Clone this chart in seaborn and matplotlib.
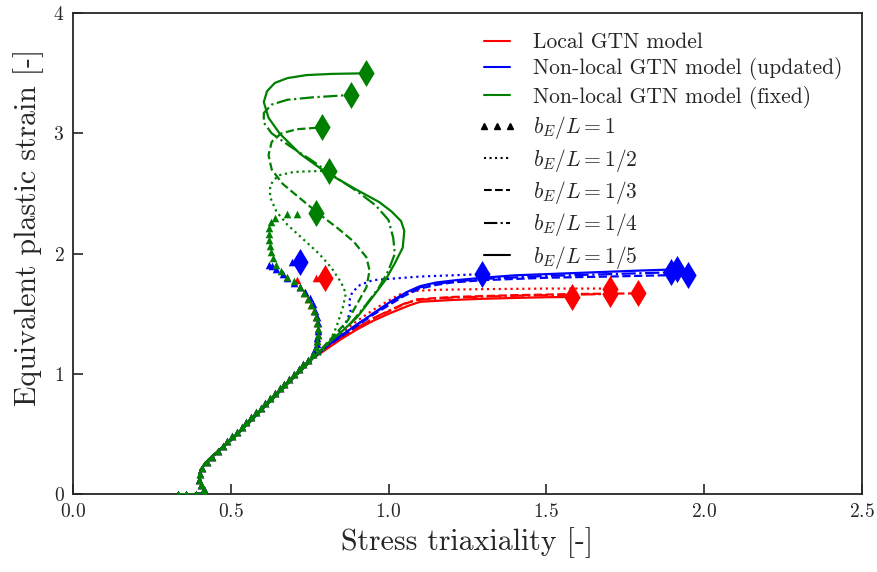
import matplotlib
matplotlib.use("Agg")
import matplotlib.pyplot as plt
from matplotlib.lines import Line2D
import numpy as np
import seaborn as sns

# shared start of every continuous curve (stress triaxiality, eq. plastic strain)
base_x = [0.333, 0.38, 0.42, 0.415, 0.405, 0.40, 0.405, 0.42, 0.44, 0.47, 0.51, 0.56, 0.62, 0.68, 0.73, 0.76]
base_y = [0.0, 0.0, 0.01, 0.05, 0.10, 0.15, 0.20, 0.26, 0.31, 0.38, 0.47, 0.60, 0.76, 0.92, 1.05, 1.13]

# local GTN model
red_half_x = [0.80, 0.85, 0.90, 0.95, 1.0, 1.035, 1.08, 1.16, 1.3, 1.5, 1.70]
red_half_y = [1.23, 1.34, 1.44, 1.53, 1.61, 1.66, 1.69, 1.70, 1.705, 1.71, 1.71]
red_third_x = [0.80, 0.85, 0.90, 0.95, 1.0, 1.05, 1.09, 1.2, 1.4, 1.6, 1.79]
red_third_y = [1.21, 1.30, 1.38, 1.46, 1.52, 1.58, 1.62, 1.64, 1.655, 1.665, 1.67]
red_quarter_x = [0.80, 0.85, 0.90, 0.95, 1.0, 1.05, 1.09, 1.2, 1.4, 1.6, 1.70]
red_quarter_y = [1.21, 1.30, 1.385, 1.46, 1.525, 1.585, 1.615, 1.635, 1.65, 1.66, 1.665]
red_fifth_x = [0.80, 0.85, 0.90, 0.95, 1.0, 1.066, 1.10, 1.2, 1.3, 1.4, 1.5, 1.58]
red_fifth_y = [1.20, 1.29, 1.37, 1.44, 1.50, 1.57, 1.60, 1.615, 1.625, 1.632, 1.638, 1.64]

# non-local GTN model (updated)
blue_half_x = [0.80, 0.84, 0.865, 0.88, 0.875, 0.885, 0.91, 0.95, 1.0, 1.1, 1.2, 1.295]
blue_half_y = [1.23, 1.33, 1.43, 1.52, 1.60, 1.68, 1.74, 1.78, 1.79, 1.81, 1.82, 1.83]
blue_third_x = [0.80, 0.85, 0.90, 0.95, 1.0, 1.05, 1.1, 1.15, 1.2, 1.3, 1.5, 1.7, 1.95]
blue_third_y = [1.22, 1.31, 1.40, 1.49, 1.57, 1.65, 1.71, 1.74, 1.76, 1.78, 1.80, 1.81, 1.825]
blue_quarter_x = [0.80, 0.85, 0.90, 0.95, 1.0, 1.055, 1.1, 1.15, 1.215, 1.3, 1.5, 1.7, 1.895]
blue_quarter_y = [1.22, 1.32, 1.41, 1.50, 1.58, 1.67, 1.72, 1.75, 1.77, 1.79, 1.815, 1.83, 1.845]
blue_fifth_x = [0.80, 0.85, 0.90, 0.95, 1.0, 1.057, 1.10, 1.15, 1.215, 1.3, 1.4, 1.5, 1.6, 1.7, 1.8, 1.915]
blue_fifth_y = [1.22, 1.32, 1.41, 1.50, 1.59, 1.68, 1.73, 1.76, 1.78, 1.80, 1.82, 1.83, 1.84, 1.85, 1.86, 1.87]

# non-local GTN model (fixed)
green_half_x = [0.78, 0.81, 0.835, 0.855, 0.865, 0.85, 0.82, 0.78, 0.73, 0.68, 0.645, 0.625, 0.625, 0.65, 0.70, 0.81]
green_half_y = [1.15, 1.25, 1.39, 1.55, 1.67, 1.76, 1.88, 2.0, 2.12, 2.24, 2.35, 2.47, 2.57, 2.65, 2.68, 2.69]
green_third_x = [0.82, 0.87, 0.90, 0.93, 0.94, 0.93, 0.89, 0.84, 0.78, 0.72, 0.665, 0.63, 0.62, 0.63, 0.66, 0.71, 0.79]
green_third_y = [1.30, 1.44, 1.58, 1.72, 1.86, 1.97, 2.10, 2.21, 2.33, 2.46, 2.58, 2.70, 2.82, 2.93, 3.00, 3.035, 3.05]
green_quarter_x = [0.82, 0.88, 0.93, 0.97, 1.0, 1.02, 1.015, 1.0, 0.96, 0.90, 0.83, 0.76, 0.69, 0.63, 0.605, 0.605, 0.63, 0.68, 0.76, 0.88]
green_quarter_y = [1.28, 1.42, 1.58, 1.72, 1.86, 2.0, 2.13, 2.28, 2.40, 2.52, 2.64, 2.77, 2.89, 3.0, 3.09, 3.17, 3.24, 3.28, 3.30, 3.32]
green_fifth_x = [0.81, 0.855, 0.90, 0.95, 0.99, 1.02, 1.045, 1.05, 1.04, 1.01, 0.97, 0.90, 0.80, 0.72, 0.655, 0.62, 0.605, 0.615, 0.64, 0.68, 0.74, 0.82, 0.93]
green_fifth_y = [1.26, 1.36, 1.47, 1.64, 1.78, 1.92, 2.05, 2.19, 2.27, 2.35, 2.43, 2.53, 2.68, 2.83, 3.0, 3.13, 3.26, 3.35, 3.42, 3.46, 3.485, 3.495, 3.50]

# b_E/L = 1 (markers only), last point is the failure point
tri_low_x = [0.333, 0.36, 0.39, 0.42, 0.415, 0.405, 0.40, 0.402, 0.41, 0.425, 0.44, 0.46,
             0.475, 0.49, 0.505, 0.52, 0.535, 0.55, 0.565, 0.58, 0.595, 0.61, 0.625, 0.64,
             0.655, 0.67, 0.685, 0.70, 0.715, 0.73, 0.745, 0.76]
tri_low_y = [0.0, 0.0, 0.0, 0.01, 0.04, 0.08, 0.12, 0.17, 0.22, 0.27, 0.31, 0.36,
             0.40, 0.44, 0.48, 0.52, 0.56, 0.60, 0.64, 0.68, 0.72, 0.76, 0.80, 0.84,
             0.88, 0.92, 0.96, 1.00, 1.04, 1.08, 1.12, 1.17]
tri_red_x = [0.77, 0.775, 0.777, 0.777, 0.775, 0.77, 0.763, 0.755, 0.745, 0.733, 0.72, 0.71, 0.77, 0.80]
tri_red_y = [1.22, 1.27, 1.32, 1.37, 1.42, 1.47, 1.52, 1.57, 1.62, 1.67, 1.72, 1.78, 1.80, 1.80]
tri_blue_x = [0.765, 0.772, 0.775, 0.777, 0.776, 0.773, 0.767, 0.76, 0.75, 0.735, 0.72, 0.70, 0.68,
              0.665, 0.645, 0.63, 0.62, 0.695, 0.72]
tri_blue_y = [1.19, 1.25, 1.30, 1.36, 1.42, 1.47, 1.52, 1.58, 1.63, 1.68, 1.72, 1.76, 1.80,
              1.83, 1.87, 1.90, 1.91, 1.93, 1.93]
tri_green_x = [0.77, 0.775, 0.777, 0.777, 0.775, 0.77, 0.763, 0.755, 0.745, 0.733, 0.72, 0.70, 0.68,
               0.66, 0.645, 0.635, 0.628, 0.624, 0.622, 0.622, 0.623, 0.627, 0.64, 0.68, 0.71, 0.77]
tri_green_y = [1.22, 1.27, 1.32, 1.37, 1.42, 1.47, 1.52, 1.57, 1.62, 1.67, 1.72, 1.77, 1.81,
               1.86, 1.91, 1.96, 2.01, 2.06, 2.11, 2.16, 2.21, 2.26, 2.30, 2.33, 2.33, 2.34]

models = ["Local GTN model", "Non-local GTN model (updated)", "Non-local GTN model (fixed)"]
colors = ["red", "blue", "green"]
ratios = ["$b_E/L=1$", "$b_E/L=1/2$", "$b_E/L=1/3$", "$b_E/L=1/4$", "$b_E/L=1/5$"]
styles = [":", "--", "-.", "-"]

sns.set_theme(style="ticks")
plt.rcParams["font.family"] = ["cmr10", "DejaVu Serif"]
plt.rcParams["mathtext.fontset"] = "cm"
plt.rcParams["axes.formatter.use_mathtext"] = True
plt.rcParams["axes.linewidth"] = 1.3

fig = plt.figure(figsize=(8.77, 5.72), dpi=100)
ax = fig.add_axes([0.083, 0.136, 0.9, 0.841])

curves = {
    "red": [(red_half_x, red_half_y), (red_third_x, red_third_y),
            (red_quarter_x, red_quarter_y), (red_fifth_x, red_fifth_y)],
    "blue": [(blue_half_x, blue_half_y), (blue_third_x, blue_third_y),
             (blue_quarter_x, blue_quarter_y), (blue_fifth_x, blue_fifth_y)],
    "green": [(green_half_x, green_half_y), (green_third_x, green_third_y),
              (green_quarter_x, green_quarter_y), (green_fifth_x, green_fifth_y)],
}
tri = {"red": (tri_red_x, tri_red_y), "blue": (tri_blue_x, tri_blue_y),
       "green": (tri_green_x, tri_green_y)}

for c in colors:
    tx = tri_low_x + tri[c][0]
    ty = tri_low_y + tri[c][1]
    sns.scatterplot(x=tx[:-1], y=ty[:-1], marker="^", s=30, color=c, linewidth=0, ax=ax, zorder=3)
    sns.scatterplot(x=[tx[-1]], y=[ty[-1]], marker="d", s=190, color=c, linewidth=0, ax=ax, zorder=4)
    for (bx, by), ls in zip(curves[c], styles):
        xs = base_x + bx
        ys = base_y + by
        sns.lineplot(x=xs, y=ys, sort=False, estimator=None, color=c, linestyle=ls,
                     linewidth=1.6, ax=ax, zorder=3)
        sns.scatterplot(x=[xs[-1]], y=[ys[-1]], marker="d", s=190, color=c, linewidth=0,
                        ax=ax, zorder=4)

ax.set_xlim(0, 2.5)
ax.set_ylim(0, 4)
ax.set_xticks([0.0, 0.5, 1.0, 1.5, 2.0, 2.5])
ax.set_yticks([0, 1, 2, 3, 4])
ax.tick_params(direction="in", length=7, width=1.2, labelsize=14, pad=6)
ax.set_xlabel("Stress triaxiality [-]", fontsize=21.5, labelpad=5)
ax.set_ylabel("Equivalent plastic strain [-]", fontsize=21.5)
ax.yaxis.set_label_coords(-0.036, 0.555)
for s in ax.spines.values():
    s.set_visible(True)
    s.set_linewidth(1.3)

handles = [Line2D([], [], color=c, lw=1.5) for c in colors]
handles.append(Line2D([], [], color="black", marker="^", markersize=4.5, linestyle="none"))
handles += [Line2D([], [], color="black", lw=1.5, linestyle=ls) for ls in styles]
ax.legend(handles, models + ratios, loc="upper right", bbox_to_anchor=(1.0, 1.0),
          frameon=False, fontsize=15.5, numpoints=3, handlelength=1.8, labelspacing=0.25,
          handletextpad=0.8)

fig.savefig("out.png", dpi=100)
